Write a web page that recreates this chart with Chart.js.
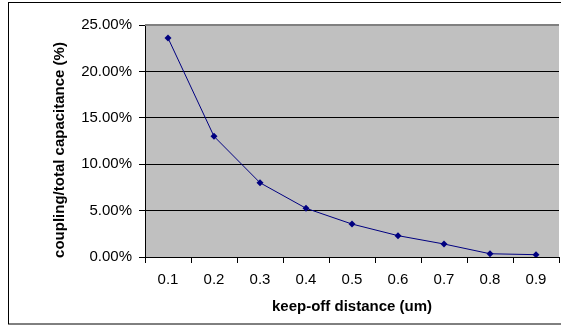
<!DOCTYPE html>
<html>
<head>
<meta charset="utf-8">
<script src="https://cdn.jsdelivr.net/npm/chart.js@4/dist/chart.umd.min.js"></script>
<style>
  html, body { margin: 0; padding: 0; background: #fff; overflow: hidden; }
  #wrap { position: relative; width: 563px; height: 326px; }
</style>
</head>
<body>
<div id="wrap"><canvas id="chart"></canvas></div>
<script>
// keep-off distance vs. coupling share of total capacitance
const distances = ["0.1", "0.2", "0.3", "0.4", "0.5", "0.6", "0.7", "0.8", "0.9"];
const couplingPct = [23.6, 13.0, 8.0, 5.25, 3.55, 2.3, 1.4, 0.35, 0.25];
const yTicks = [0, 5, 10, 15, 20, 25];

const font = { family: "'Liberation Sans', Arial, sans-serif", size: 15 };
const boldFont = { family: "'Liberation Sans', Arial, sans-serif", size: 15, weight: "bold" };

// gray plot area, outer frame and darker top border
const plotDecor = {
  id: "plotDecor",
  beforeDraw(chart) {
    const { ctx, chartArea: a } = chart;
    ctx.save();
    ctx.fillStyle = "#ffffff";
    ctx.fillRect(0, 0, chart.width, chart.height);
    ctx.strokeStyle = "#000000";
    ctx.lineWidth = 1;
    ctx.strokeRect(8.5, 2.5, chart.width + 20, 321.5);
    ctx.fillStyle = "#c0c0c0";
    ctx.fillRect(a.left, a.top, a.right - a.left, a.bottom - a.top);
    ctx.restore();
  },
  afterDatasetsDraw(chart) {
    const { ctx, chartArea: a } = chart;
    ctx.save();
    ctx.strokeStyle = "#808080";
    ctx.lineWidth = 2;
    ctx.beginPath();
    ctx.moveTo(a.left, a.top);
    ctx.lineTo(a.right, a.top);
    ctx.stroke();
    ctx.restore();
  }
};

// the y title sits a little below the middle of the axis
const shiftYTitle = {
  id: "shiftYTitle",
  afterLayout(chart) {
    const s = chart.scales.y;
    if (s._titleShifted) return;
    const orig = s.drawTitle.bind(s);
    s.drawTitle = function () {
      this.ctx.save();
      this.ctx.translate(-1, 9);
      orig();
      this.ctx.restore();
    };
    s._titleShifted = true;
  }
};

new Chart(document.getElementById("chart"), {
  type: "line",
  data: {
    labels: distances,
    datasets: [{
      data: couplingPct,
      borderColor: "#000080",
      borderWidth: 1,
      backgroundColor: "#000080",
      pointStyle: "rectRot",
      pointRadius: 3.5,
      pointBorderWidth: 0,
      tension: 0
    }]
  },
  options: {
    responsive: true,
    maintainAspectRatio: false,
    animation: false,
    layout: { padding: { left: 9, top: 25, right: 0, bottom: 3 } },
    plugins: { legend: { display: false }, tooltip: { enabled: false } },
    scales: {
      x: {
        type: "category",
        offset: true,
        grid: { offset: true, drawOnChartArea: false, color: "#000", tickLength: 6 },
        border: { color: "#000", width: 1 },
        ticks: { color: "#000", font, padding: 8, maxRotation: 0 },
        title: { display: true, text: "keep-off distance (um)", color: "#000", font: boldFont, padding: { top: 0, bottom: 7 } },
        afterFit(scale) { scale.height = 66; }
      },
      y: {
        min: 0,
        max: 25,
        afterBuildTicks(scale) { scale.ticks = yTicks.map(v => ({ value: v })); },
        grid: { color: "#000", tickLength: 6 },
        border: { color: "#000", width: 1 },
        ticks: { color: "#000", font, padding: 7, callback: v => v.toFixed(2) + "%" },
        title: { display: true, text: "coupling/total capacitance (%)", color: "#000", font: boldFont, padding: { top: 43, bottom: 0 } },
        afterFit(scale) { scale.width = 136; }
      }
    }
  },
  plugins: [plotDecor, shiftYTitle]
});
</script>
</body>
</html>
